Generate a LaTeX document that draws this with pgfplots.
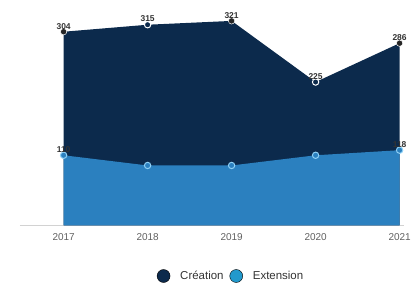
\documentclass[border=0pt]{standalone}
\usepackage{fontspec}
\setmainfont{Liberation Sans}
\usepackage{pgfplots}
\pgfplotsset{compat=1.18}
\definecolor{navy}{HTML}{0C2A4C}
\definecolor{ext}{HTML}{2B80BF}
\definecolor{ring}{HTML}{8FD0F5}
\definecolor{lbl}{HTML}{333333}
\begin{document}
\begin{tikzpicture}
\begin{axis}[at={(0,0)}, anchor=south west, scale only axis,
  width=385pt, height=221pt,
  xmin=2016.48, xmax=2021.05, ymin=0, ymax=346,
  axis x line*=bottom, axis y line=none,
  x axis line style={draw=gray!35, -, line width=0.8pt},
  xtick={2017,2018,2019,2020,2021},
  xticklabels={2017,2018,2019,2020,2021},
  tick style={draw=none},
  xticklabel style={font=\fontsize{10}{12}\selectfont, text=gray!75!black, yshift=-5pt},
  clip=false,
  legend style={at={(0.55,-0.23)}, anchor=center, draw=none, fill=none,
    legend columns=2, font=\fontsize{11.5}{13}\selectfont,
    text=gray!40!black,
    /tikz/every odd column/.append style={column sep=8pt},
    /tikz/every even column/.append style={column sep=4pt}},
  legend image code/.code={\draw[#1] (0pt,0pt) circle (6.5pt);},
  legend cell align=left,
]
% Creation area
\addplot[fill=navy, draw=none, forget plot] coordinates {
 (2017,304) (2018,315) (2019,321) (2020,225) (2021,286)} \closedcycle;
% Extension area
\addplot[fill=ext, draw=none, forget plot] coordinates {
 (2017,110) (2018,94) (2019,94) (2020,110) (2021,118)} \closedcycle;
% Creation markers
\addplot[only marks, mark=*, mark size=3.2pt, mark options={fill=black!85, draw=white, line width=0.5pt}, forget plot,
  nodes near coords, point meta=explicit symbolic,
  every node near coord/.append style={font=\bfseries\fontsize{8.5}{10}\selectfont, text=lbl, anchor=south, yshift=-1pt}]
 coordinates {(2017,304) [304] (2019,321) [321] (2021,286) [286]};
\addplot[only marks, mark=*, mark size=3.2pt, mark options={fill=navy, draw=white, line width=1pt}, forget plot,
  nodes near coords, point meta=explicit symbolic,
  every node near coord/.append style={font=\bfseries\fontsize{8.5}{10}\selectfont, text=lbl, anchor=south, yshift=-1pt}]
 coordinates {(2018,315) [315] (2020,225) [225]};
% Extension markers
\addplot[only marks, mark=*, mark size=3.2pt, mark options={fill=ext, draw=ring, line width=1pt}, forget plot,
  nodes near coords, point meta=explicit symbolic,
  every node near coord/.append style={font=\bfseries\fontsize{8.5}{10}\selectfont, text=lbl, anchor=south, yshift=-1pt}]
 coordinates {(2017,110) [110] (2018,94) [] (2019,94) [] (2020,110) [] (2021,118) [118]};
\addlegendimage{fill=navy, draw=none}
\addlegendentry{Création}
\addlegendimage{fill=ext!80!cyan, draw=none}
\addlegendentry{Extension}
\end{axis}
\useasboundingbox (-20pt,-61pt) rectangle (394pt,226pt);
\end{tikzpicture}
\end{document}
